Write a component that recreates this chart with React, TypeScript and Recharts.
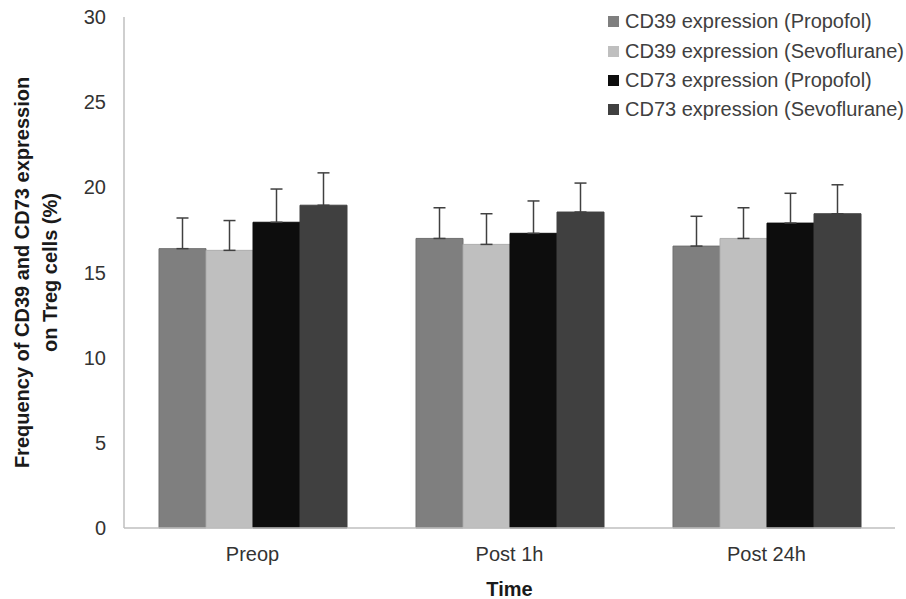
import React from 'react';
import { BarChart, Bar, XAxis, YAxis, ErrorBar, Label } from 'recharts';

const timePoints = ['Preop', 'Post 1h', 'Post 24h'];

const cd39Propofol = [16.4, 17.0, 16.55];
const cd39PropofolSd = [1.8, 1.8, 1.75];
const cd39Sevo = [16.3, 16.65, 17.0];
const cd39SevoSd = [1.75, 1.8, 1.8];
const cd73Propofol = [17.95, 17.3, 17.9];
const cd73PropofolSd = [1.95, 1.9, 1.75];
const cd73Sevo = [18.95, 18.55, 18.45];
const cd73SevoSd = [1.9, 1.7, 1.7];

const yTicks = [0, 5, 10, 15, 20, 25, 30];

const seriesInfo = [
  { key: 'cd39p', name: 'CD39 expression (Propofol)', color: '#7f7f7f', edge: '#707070' },
  { key: 'cd39s', name: 'CD39 expression (Sevoflurane)', color: '#bfbfbf', edge: '#adadad' },
  { key: 'cd73p', name: 'CD73 expression (Propofol)', color: '#0d0d0d', edge: '#0d0d0d' },
  { key: 'cd73s', name: 'CD73 expression (Sevoflurane)', color: '#404040', edge: '#404040' },
];

// errors are drawn upward only: [lower, upper]
const chartData = timePoints.map((t, i) => ({
  time: t,
  cd39p: cd39Propofol[i],
  cd39pErr: [0, cd39PropofolSd[i]],
  cd39s: cd39Sevo[i],
  cd39sErr: [0, cd39SevoSd[i]],
  cd73p: cd73Propofol[i],
  cd73pErr: [0, cd73PropofolSd[i]],
  cd73s: cd73Sevo[i],
  cd73sErr: [0, cd73SevoSd[i]],
}));

const font = 'Arial, "Liberation Sans", sans-serif';

// legend drawn on top of the plot, like the original
const LegendBox = () => (
  <div
    style={{
      position: 'absolute',
      left: 608,
      top: 7,
      fontFamily: font,
      fontSize: 20,
      color: '#404040',
      whiteSpace: 'nowrap',
    }}
  >
    {seriesInfo.map((s) => (
      <div key={s.key} style={{ display: 'flex', alignItems: 'center', height: 29.4 }}>
        <span style={{ width: 11, height: 11, background: s.color, marginRight: 6, display: 'inline-block' }} />
        <span>{s.name}</span>
      </div>
    ))}
  </div>
);

const YTitle = (props: any) => {
  const { viewBox } = props;
  const cy = viewBox.y + viewBox.height / 2;
  return (
    <g fontFamily={font} fontSize={20} fontWeight="bold" fill="#1a1a1a">
      <text x={22} y={cy} textAnchor="middle" dominantBaseline="central" transform={`rotate(-90, 22, ${cy})`}>
        Frequency of CD39 and CD73 expression
      </text>
      <text x={50} y={cy} textAnchor="middle" dominantBaseline="central" transform={`rotate(-90, 50, ${cy})`}>
        on Treg cells (%)
      </text>
    </g>
  );
};

export default function App() {
  return (
    <div style={{ position: 'absolute', left: 0, top: 0, width: 906, height: 599, background: '#fff' }}>
      <BarChart
        width={906}
        height={599}
        data={chartData}
        margin={{ top: 17, right: 11, bottom: 0, left: 0 }}
        barGap={0}
      >
        <XAxis
          dataKey="time"
          height={71}
          axisLine={{ stroke: '#bfbfbf', strokeWidth: 1.5 }}
          tickLine={false}
          tickMargin={13}
          tick={{ fontFamily: font, fontSize: 20, fill: '#333' }}
        >
          <Label
            value="Time"
            position="insideBottom"
            offset={3}
            style={{ fontFamily: font, fontSize: 20, fontWeight: 'bold', fill: '#1a1a1a' }}
          />
        </XAxis>
        <YAxis
          width={124}
          domain={[0, 30]}
          ticks={yTicks}
          interval={0}
          axisLine={{ stroke: '#bfbfbf', strokeWidth: 1.5 }}
          tickLine={false}
          tickMargin={12}
          tick={{ fontFamily: font, fontSize: 20, fill: '#333' }}
        >
          <Label content={<YTitle />} />
        </YAxis>
        {seriesInfo.map((s) => (
          <Bar
            key={s.key}
            dataKey={s.key}
            name={s.name}
            fill={s.color}
            stroke={s.edge}
            strokeWidth={1}
            barSize={47}
            isAnimationActive={false}
          >
            <ErrorBar dataKey={`${s.key}Err`} width={6} stroke="#404040" strokeWidth={1.5} direction="y" />
          </Bar>
        ))}
      </BarChart>
      <LegendBox />
    </div>
  );
}
